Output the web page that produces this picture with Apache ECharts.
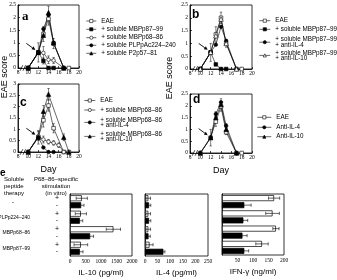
<!DOCTYPE html>
<html><head><meta charset="utf-8">
<script src="https://cdn.jsdelivr.net/npm/echarts@6/dist/echarts.min.js"></script>
<style>html,body{margin:0;padding:0;background:#fff}#c{width:337px;height:280px}</style>
</head><body><div id="c"></div><script>
// ---------- DATA ----------
// Panel a
const aEAEDays = [10,12,13,14,15,17,18];
const aEAE     = [0,0.62,1.35,1.95,0.97,0,0];
const aEAEErr  = [0,0.38,0.3,0.25,0.2,0,0];
const aMBP87Days = [10,12,13,14,15];
const aMBP87     = [0,0.62,0.28,0,0];
const aMBP87Err  = [0,0,0.12,0,0];
const aMBP68Days = [10,12,13,14,15,17];
const aMBP68     = [0,0.62,0.6,0.33,0.3,0];
const aMBP68Err  = [0,0,0.25,0.15,0.12,0];
const aPLPDays = [10,12,13,14,15,17];
const aPLP     = [0,0.62,1.55,2.1,1.0,0];
const aP2Days  = [10,12,13,14,15,17];
const aP2      = [0,0.62,1.3,2.2,1.0,0];
const aP2Err   = [0,0,0,0.25,0,0];
// Panel b
const bEAEDays = [10,12,13,14,15,17,18];
const bEAE     = [0,0.65,1.35,2.0,1.0,0,0];
const bEAEErr  = [0,0.35,0.3,0.22,0.15,0,0];
const bMBP87Days = [10,12,13,14,15];
const bMBP87     = [0,0.65,0.18,0,0];
const bIL4Days = [10,12,13,14,15,17];
const bIL4     = [0,0.65,0.95,1.65,1.1,0];
const bIL10Days = [10,12,13,14,15,17];
const bIL10     = [0,0.65,1.3,1.95,1.0,0];
// Panel c
const cEAEDays = [10,12,13,14,15,17,18];
const cEAE     = [0,0.65,1.4,2.05,1.05,0,0];
const cEAEErr  = [0,0.3,0.3,0.25,0.2,0,0];
const cMBP68Days = [10,12,13,14,15,16,17];
const cMBP68     = [0,0.7,0.55,0.45,0.4,0.3,0];
const cMBP68Err  = [0,0.2,0.15,0.1,0.1,0.1,0];
const cIL4Days = [10,12,13,14,15];
const cIL4     = [0,0.65,0.2,0,0];
const cIL10Days = [10,12,13,14,17,18];
const cIL10     = [0,0.65,1.8,2.55,0.65,0];
const cIL10Err  = [0,0,0.25,0.25,0.15,0];
// Panel d
const dEAEDays = [10,12,13,14,15,17,18];
const dEAE     = [0,0.65,1.33,1.97,0.88,0,0];
const dEAEErr  = [0,0.35,0.2,0.2,0.1,0,0];
const dIL4Days = [10,12,13,14,15,17];
const dIL4     = [0,0.65,1.65,2.15,1.15,0];
const dIL4Err  = [0,0,0.1,0.15,0.1,0];
const dIL10Days = [10,12,13,14,15,17];
const dIL10     = [0,0.65,1.5,2.05,1.0,0];
// Panel e
const therapyCats = ['-', 'PLPp224–240', 'MBPp68–86', 'MBPp87–99'];
const il10Plus     = [380,350,1400,350];
const il10PlusErr  = [180,180,230,220];
const il10Minus    = [360,320,650,320];
const il10MinusErr = [90,90,110,100];
const il4Plus      = [13,13,13,18];
const il4PlusErr   = [9,9,9,14];
const il4Minus     = [16,16,14,73];
const il4MinusErr  = [7,7,7,6];
const ifnPlus      = [168,163,174,129];
const ifnPlusErr   = [18,22,10,20];
const ifnMinus     = [72,69,66,72];
const ifnMinusErr  = [22,14,15,14];

// ---------- CHART ----------
const SERIF = 'Liberation Serif', SANS = 'Liberation Sans';
const chart = echarts.init(document.getElementById('c'));
const STY = {
  osq:{symbol:'rect', fill:'#fff'}, fsq:{symbol:'rect', fill:'#000'},
  oci:{symbol:'circle', fill:'#fff'}, fci:{symbol:'circle', fill:'#000'},
  ftr:{symbol:'triangle', fill:'#000'}, otr:{symbol:'triangle', fill:'#fff'}
};
const LABELS = {};
function line(name, label, gi, days, vals, sty){
  LABELS[name] = label;
  return {type:'line', name, xAxisIndex:gi, yAxisIndex:gi, data: days.map((d,i)=>[d, vals[i]]),
    symbol: STY[sty].symbol, symbolSize: sty.indexOf('tr')>=0 ? 4.5 : 3.6, z:3,
    itemStyle:{color:STY[sty].fill, borderColor:'#000', borderWidth:0.6},
    lineStyle:{color:'#000', width:0.6}, emphasis:{disabled:true}, silent:true, animation:false};
}
function vErr(gi, days, vals, errs){
  return {type:'custom', xAxisIndex:gi, yAxisIndex:gi, silent:true, z:2, animation:false,
    data: days.map((d,i)=>[d, vals[i], errs[i]]).filter(p=>p[2]>0),
    renderItem(params, api){
      const x=api.value(0), y=api.value(1), e=api.value(2);
      const p0=api.coord([x,y-e]), p1=api.coord([x,y+e]); const w=1.2;
      const st={stroke:'#000', lineWidth:0.5};
      return {type:'group', children:[
        {type:'line', shape:{x1:p0[0],y1:p0[1],x2:p1[0],y2:p1[1]}, style:st},
        {type:'line', shape:{x1:p1[0]-w,y1:p1[1],x2:p1[0]+w,y2:p1[1]}, style:st},
        {type:'line', shape:{x1:p0[0]-w,y1:p0[1],x2:p0[0]+w,y2:p0[1]}, style:st}]};
    }};
}
function bar(gi, vals, fill){
  return {type:'bar', xAxisIndex:gi, yAxisIndex:gi, data:vals, barWidth:6, barGap:'17%',
    itemStyle:{color:fill, borderColor:'#000', borderWidth:0.7}, silent:true, animation:false};
}
function hErr(gi, vals, errs, side){
  return {type:'custom', xAxisIndex:gi, yAxisIndex:gi, silent:true, z:5, animation:false,
    encode:{x:1, y:0},
    data: vals.map((v,i)=>[i, v, errs[i], side]),
    renderItem(params, api){
      const c=api.value(0), v=api.value(1), e=api.value(2), s=api.value(3);
      const p0=api.coord([v-e, c]), p1=api.coord([v+e, c]);
      const y=p0[1]+s*3.5, h=1.6;
      const st={stroke:'#000', lineWidth:0.6};
      return {type:'group', children:[
        {type:'line', shape:{x1:p0[0],y1:y,x2:p1[0],y2:y}, style:st},
        {type:'line', shape:{x1:p1[0],y1:y-h,x2:p1[0],y2:y+h}, style:st},
        {type:'line', shape:{x1:p0[0],y1:y-h,x2:p0[0],y2:y+h}, style:st}]};
    }};
}
const axLine = {lineStyle:{color:'#000', width:0.8}};
function dayAxis(gi, withName){
  return {type:'value', gridIndex:gi, min:8, max:20, interval:2, axisLine:axLine,
    axisTick:{inside:true, length:2, lineStyle:{color:'#000', width:0.7}}, splitLine:{show:false},
    axisLabel:{fontSize:5.5, fontFamily:SERIF, color:'#000', margin:2},
    name: withName ? 'Day' : '', nameLocation:'middle', nameGap:13,
    nameTextStyle:{fontSize:9, fontFamily:SANS, color:'#000'}};
}
function scoreAxis(gi, max){
  return {type:'value', gridIndex:gi, position:'left', min:0, max, interval:0.5, axisLine:axLine,
    axisTick:{inside:true, length:2, lineStyle:{color:'#000', width:0.7}}, splitLine:{show:false},
    axisLabel:{fontSize:5.5, fontFamily:SERIF, color:'#000', margin:2}};
}
function cytoAxis(gi, max, interval, name, hideZero){
  return {type:'value', gridIndex:gi, min:0, max, interval, axisLine:axLine,
    axisTick:{inside:true, length:2, lineStyle:{color:'#000', width:0.7}}, splitLine:{show:false},
    axisLabel:{fontSize:5.5, fontFamily:SERIF, color:'#000', margin:3,
      formatter: v => (hideZero && v===0) ? '' : String(v)},
    name, nameLocation:'middle', nameGap:13, nameTextStyle:{fontSize:8, fontFamily:SANS, color:'#000'}};
}
function catAxis(gi){
  return {type:'category', gridIndex:gi, position:'left', inverse:true, data:therapyCats, axisLine:axLine,
    axisTick:{show:false}, axisLabel:{show:false}};
}
const gridBox = {show:true, borderColor:'#000', borderWidth:0.8, backgroundColor:'transparent',
  containLabel:false, outerBoundsMode:'none'};
const grids = [
  {left:18, top:5, width:61, height:63},
  {left:190, top:5, width:62, height:64},
  {left:18, top:84, width:61, height:68},
  {left:190, top:94, width:62, height:59},
  {left:70, top:194, width:62, height:62},
  {left:145, top:194, width:63, height:62},
  {left:222, top:194, width:62, height:61}
].map(g => Object.assign({}, gridBox, g));

const series = [
  line('aEAE','EAE',0,aEAEDays,aEAE,'osq'),
  line('aMBP87','+ soluble MBPp87–99',0,aMBP87Days,aMBP87,'fsq'),
  line('aMBP68','+ soluble MBPp68–86',0,aMBP68Days,aMBP68,'oci'),
  line('aPLP','+ soluble PLPpAc224–240',0,aPLPDays,aPLP,'fci'),
  line('aP2','+ soluble P2p57–81',0,aP2Days,aP2,'ftr'),
  vErr(0,aEAEDays,aEAE,aEAEErr), vErr(0,aMBP87Days,aMBP87,aMBP87Err),
  vErr(0,aMBP68Days,aMBP68,aMBP68Err), vErr(0,aP2Days,aP2,aP2Err),

  line('bEAE','EAE',1,bEAEDays,bEAE,'osq'),
  line('bMBP87','+ soluble MBPp87–99',1,bMBP87Days,bMBP87,'fsq'),
  line('bIL4','+ soluble MBPp87–99\n+ anti-IL-4',1,bIL4Days,bIL4,'fci'),
  line('bIL10','+ soluble MBPp87–99\n+ anti-IL-10',1,bIL10Days,bIL10,'otr'),
  vErr(1,bEAEDays,bEAE,bEAEErr),

  line('cEAE','EAE',2,cEAEDays,cEAE,'osq'),
  line('cMBP68','+ soluble MBPp68–86',2,cMBP68Days,cMBP68,'oci'),
  line('cIL4','+ soluble MBPp68–86\n+ anti-IL-4',2,cIL4Days,cIL4,'fci'),
  line('cIL10','+ soluble MBPp68–86\n+ anti-IL-10',2,cIL10Days,cIL10,'ftr'),
  vErr(2,cEAEDays,cEAE,cEAEErr), vErr(2,cMBP68Days,cMBP68,cMBP68Err), vErr(2,cIL10Days,cIL10,cIL10Err),

  line('dEAE','EAE',3,dEAEDays,dEAE,'osq'),
  line('dIL4','Anti-IL-4',3,dIL4Days,dIL4,'fci'),
  line('dIL10','Anti-IL-10',3,dIL10Days,dIL10,'ftr'),
  vErr(3,dEAEDays,dEAE,dEAEErr), vErr(3,dIL4Days,dIL4,dIL4Err),

  bar(4, il10Plus, '#fff'), bar(4, il10Minus, '#000'),
  hErr(4, il10Plus, il10PlusErr, -1), hErr(4, il10Minus, il10MinusErr, 1),
  bar(5, il4Plus, '#fff'), bar(5, il4Minus, '#000'),
  hErr(5, il4Plus, il4PlusErr, -1), hErr(5, il4Minus, il4MinusErr, 1),
  bar(6, ifnPlus, '#fff'), bar(6, ifnMinus, '#000'),
  hErr(6, ifnPlus, ifnPlusErr, -1), hErr(6, ifnMinus, ifnMinusErr, 1)
];

function legendItem(name, left, cy, iw){
  const lines = LABELS[name].split('\n').length;
  const lh = lines > 1 ? 5.2 : 6.5;
  const h = Math.max(lines*lh, 4);
  return {data:[name], left, top: cy - h/2, orient:'vertical', padding:0, itemWidth:iw, itemHeight:4,
    itemGap:0, selectedMode:false, formatter: n => LABELS[n],
    itemStyle:{borderWidth:0.6},
    lineStyle:{width:0.6},
    textStyle:{fontSize:6.3, fontFamily:SANS, color:'#000', lineHeight:lh}};
}
const legends = [
  legendItem('aEAE',86,21,10), legendItem('aMBP87',86,29.3,10), legendItem('aMBP68',86,37.7,10),
  legendItem('aPLP',86,45.3,10), legendItem('aP2',86,53.3,10),
  legendItem('bEAE',259,20.7,11), legendItem('bMBP87',259,29.3,11),
  legendItem('bIL4',259,41.8,11), legendItem('bIL10',259,55,11),
  legendItem('cEAE',84,100.5,11), legendItem('cMBP68',84,110,11),
  legendItem('cIL4',84,122,11), legendItem('cIL10',84,136,11),
  legendItem('dEAE',257,117.3,14), legendItem('dIL4',257,127.3,14), legendItem('dIL10',257,136.7,14)
];

const txt = (x,y,text,font,extra) => Object.assign({type:'text', x, y, silent:true,
  style:{text, font, fill:'#000', textAlign:'left', textVerticalAlign:'middle'}}, extra||{});
const graphics = [
  txt(22,17,'a','bold 13px '+SERIF),
  txt(192,15,'b','bold 12px '+SANS),
  txt(20,103,'c','bold 12px '+SANS),
  txt(193,100,'d','bold 12px '+SANS),
  txt(0,173,'e','bold 10px '+SANS),
  {type:'text', x:5, y:77, rotation:Math.PI/2, silent:true,
   style:{text:'EAE score', font:'9px '+SANS, fill:'#000', textAlign:'center', textVerticalAlign:'middle'}},
  {type:'text', x:170, y:78, rotation:Math.PI/2, silent:true,
   style:{text:'EAE score', font:'9px '+SANS, fill:'#000', textAlign:'center', textVerticalAlign:'middle'}},
  {type:'text', x:4, y:186, silent:true,
   style:{text:'Soluble\npeptide\ntherapy', font:'6px '+SANS, lineHeight:7, fill:'#000', textAlign:'left', textVerticalAlign:'middle'}},
  {type:'text', x:56, y:186, silent:true,
   style:{text:'P68–86–specific\nstimulation\n(in vitro)', font:'6px '+SANS, lineHeight:7, fill:'#000', textAlign:'center', textVerticalAlign:'middle'}}
];

const option = {
  animation:false,
  grid: grids,
  xAxis: [dayAxis(0,false), dayAxis(1,false), dayAxis(2,true), dayAxis(3,true),
    cytoAxis(4,2000,500,'IL-10 (pg/ml)',false), cytoAxis(5,250,50,'IL-4 (pg/ml)',false),
    cytoAxis(6,200,50,'IFN-γ (ng/ml)',true)],
  yAxis: [scoreAxis(0,2.5), scoreAxis(1,2.5), scoreAxis(2,3), scoreAxis(3,2.5),
    catAxis(4), catAxis(5), catAxis(6),
    {type:'category', gridIndex:4, position:'left', offset:0, inverse:true, data:therapyCats,
     axisLine:{show:false}, axisTick:{show:false},
     axisLabel:{margin:40, fontSize:5, fontFamily:SANS, color:'#000',
       formatter: v => v === '-' ? '{d|-}' : v, rich:{d:{padding:[0,16,0,0], fontSize:7, fontFamily:SANS}}}},
    {type:'category', gridIndex:4, position:'left', offset:0, inverse:true, data:therapyCats,
     axisLine:{show:false}, axisTick:{show:false},
     axisLabel:{margin:13, align:'center', fontSize:7, lineHeight:6.5, fontFamily:SANS, color:'#000',
       formatter: () => '+\n-'}}],
  legend: legends,
  series,
  graphic: graphics
};
chart.setOption(option);

// annotations: arrows to day-12 onset point, axis breaks near day 9
const extra = [];
const onset = [aEAE[1], bEAE[1], cEAE[1], dEAE[1]];
for (let gi=0; gi<4; gi++){
  const p = chart.convertToPixel({gridIndex:gi}, [12, onset[gi]]);
  const hx = p[0]-3, hy = p[1]-2.5, tx = p[0]-12, ty = p[1]-9;
  const ang = Math.atan2(hy-ty, hx-tx);
  const L = 3.5, W = 1.8;
  const bx = hx - L*Math.cos(ang), by = hy - L*Math.sin(ang);
  extra.push({type:'line', silent:true, shape:{x1:tx,y1:ty,x2:bx,y2:by}, style:{stroke:'#000', lineWidth:0.9}});
  extra.push({type:'polygon', silent:true, shape:{points:[[hx,hy],
    [bx - W*Math.sin(ang), by + W*Math.cos(ang)], [bx + W*Math.sin(ang), by - W*Math.cos(ang)]]}, style:{fill:'#000'}});
  const q = chart.convertToPixel({gridIndex:gi}, [9, 0]);
  extra.push({type:'rect', silent:true, shape:{x:q[0]-1.2, y:q[1]-1, width:2.4, height:2}, style:{fill:'#fff'}});
  [-1.6, 1.2].forEach(dx => extra.push({type:'line', silent:true,
    shape:{x1:q[0]+dx-1.3, y1:q[1]+2.8, x2:q[0]+dx+1.3, y2:q[1]-2.8}, style:{stroke:'#000', lineWidth:0.7}}));
}
chart.setOption({graphic: graphics.concat(extra)});
</script></body></html>
